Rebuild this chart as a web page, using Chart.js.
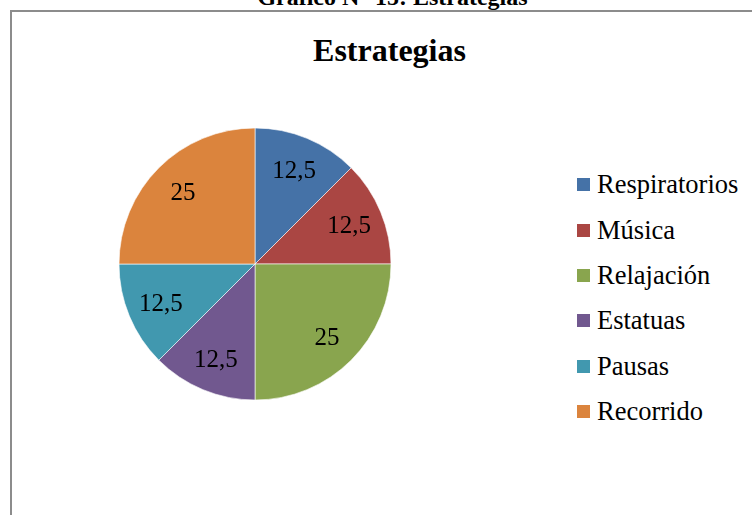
<!DOCTYPE html>
<html lang="es">
<head>
<meta charset="utf-8">
<title>Estrategias</title>
<script src="https://cdn.jsdelivr.net/npm/chart.js@4.4.1/dist/chart.umd.min.js"></script>
<style>
    html, body {
        margin: 0;
        padding: 0;
        width: 752px;
        height: 515px;
        overflow: hidden;
        background: #fff;
        font-family: 'Liberation Serif', 'Times New Roman', serif;
    }
    .pagina { position: relative; width: 752px; height: 515px; overflow: hidden; }
    .leyenda-grafico {
        position: absolute;
        left: 0;
        top: -15px;
        width: 785px;
        text-align: center;
        font-weight: bold;
        font-size: 24px;
        line-height: 24px;
        color: #000;
        white-space: nowrap;
    }
    .marco {
        position: absolute;
        left: 10px;
        top: 10px;
        width: 800px;
        height: 600px;
        border: 2px solid #8c8c8c;
        box-sizing: border-box;
    }
    .titulo {
        position: absolute;
        left: 0;
        top: 34px;
        width: 779px;
        text-align: center;
        font-weight: bold;
        font-size: 32px;
        line-height: 32px;
        color: #000;
    }
    #graficoEstrategias {
        position: absolute;
        left: 105px;
        top: 114px;
    }
    .leyenda { position: absolute; left: 577px; top: 162px; }
    .leyenda-item {
        display: flex;
        align-items: center;
        height: 45.4px;
        font-size: 26.5px;
        color: #000;
        white-space: nowrap;
    }
    .leyenda-item span.caja {
        display: inline-block;
        width: 13px;
        height: 13px;
        margin-right: 7px;
    }
</style>
</head>
<body>
<div class="pagina">
    <div class="leyenda-grafico">Gráfico N° 15: Estrategias</div>
    <div class="marco"></div>
    <div class="titulo">Estrategias</div>
    <canvas id="graficoEstrategias" width="300" height="300"></canvas>
    <div class="leyenda" id="leyenda"></div>
</div>

<script>
// Datos del gráfico
const categorias = ['Respiratorios', 'Música', 'Relajación', 'Estatuas', 'Pausas', 'Recorrido'];
const porcentajes = [12.5, 12.5, 25, 12.5, 12.5, 25];

// Colores de las porciones
const colores = ['#4572A7', '#AA4643', '#89A54E', '#71588F', '#4198AF', '#DB843D'];

/**
 * Formatear número con coma decimal
 */
function formatearValor(valor) {
    return String(valor).replace('.', ',');
}

/**
 * Plugin simple para escribir los valores dentro de cada porción
 */
const etiquetasPorcion = {
    id: 'etiquetasPorcion',
    afterDatasetsDraw(chart) {
        const ctx = chart.ctx;
        const meta = chart.getDatasetMeta(0);
        const datos = chart.data.datasets[0].data;
        ctx.save();
        ctx.font = '25px "Liberation Serif", "Times New Roman", serif';
        ctx.fillStyle = '#000';
        ctx.textAlign = 'center';
        ctx.textBaseline = 'alphabetic';
        meta.data.forEach(function(arco, i) {
            const p = arco.getProps(['x', 'y', 'startAngle', 'endAngle', 'outerRadius'], true);
            const medio = (p.startAngle + p.endAngle) / 2;
            const r = p.outerRadius * 0.75;
            const x = p.x + Math.cos(medio) * r;
            const y = p.y + Math.sin(medio) * r;
            ctx.fillText(formatearValor(datos[i]), x, y + 25 * 0.338);
        });
        ctx.restore();
    }
};

/**
 * Inicializar gráfico de pastel
 */
function initChartPastel(canvasId) {
    const ctx = document.getElementById(canvasId);
    if (!ctx) return;

    new Chart(ctx, {
        type: 'pie',
        data: {
            labels: categorias,
            datasets: [{
                data: porcentajes,
                backgroundColor: colores,
                borderColor: 'rgba(255, 255, 255, 0.6)',
                borderWidth: 1,
                radius: 136
            }]
        },
        options: {
            responsive: false,
            animation: false,
            layout: { padding: 0 },
            plugins: {
                legend: { display: false },
                title: { display: false },
                tooltip: { enabled: false }
            }
        },
        plugins: [etiquetasPorcion]
    });
}

/**
 * Construir la leyenda a la derecha
 */
function crearLeyenda(contenedorId) {
    const contenedor = document.getElementById(contenedorId);
    categorias.forEach(function(nombre, i) {
        const item = document.createElement('div');
        item.className = 'leyenda-item';
        const caja = document.createElement('span');
        caja.className = 'caja';
        caja.style.background = colores[i];
        item.appendChild(caja);
        item.appendChild(document.createTextNode(nombre));
        contenedor.appendChild(item);
    });
}

document.addEventListener('DOMContentLoaded', function() {
    initChartPastel('graficoEstrategias');
    crearLeyenda('leyenda');
});
</script>
</body>
</html>
